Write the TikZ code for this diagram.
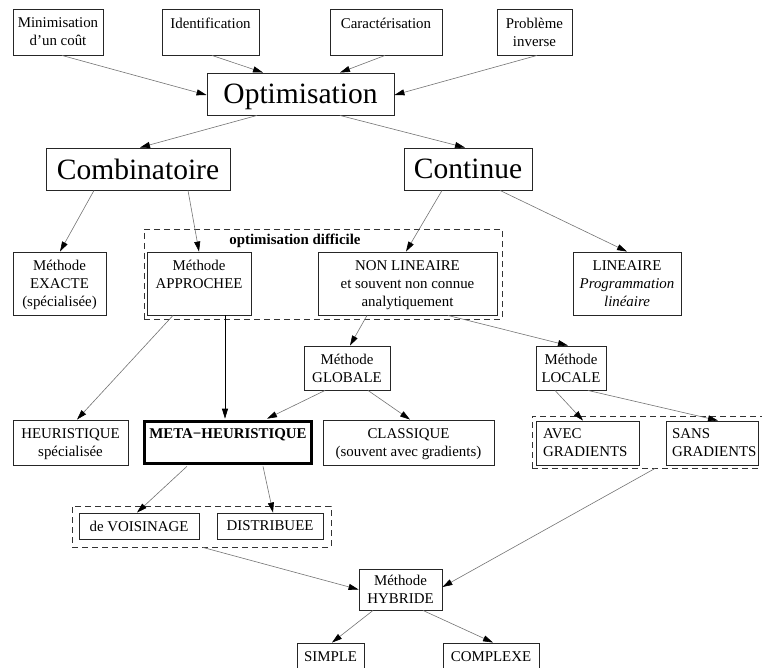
\documentclass[tikz,border=0pt]{standalone}
\usepackage{fontspec}
\setmainfont{Liberation Serif}
\usetikzlibrary{arrows.meta,calc}
\begin{document}
\begin{tikzpicture}[x=1pt,y=-1pt,
  basebox/.style={draw=black!85,line width=0.9pt,inner sep=0pt,align=center,
    font=\fontsize{14.9}{18}\selectfont},
  box/.style={basebox,text depth=0pt},
  bigbox/.style={box,font=\fontsize{29.5}{34}\selectfont},
  cluster/.style={draw=black!80,line width=0.9pt,dash pattern=on 6pt off 4pt,inner sep=0pt},
  edge/.style={draw=black!55,line width=0.6pt,-{Triangle[length=10pt,width=6pt,color=black]}},
  sedge/.style={draw=black,line width=0.7pt,-{Triangle[length=10pt,width=6pt,color=black]}}
]
\useasboundingbox (0,0) rectangle (762,668);
% clusters
\node[cluster,minimum width=358,minimum height=90] (cdiff) at (323,274) {};
\node[font=\fontsize{14.9}{18}\selectfont\bfseries,inner sep=0pt] (ldiff) at (295,241) {optimisation difficile};
\node[cluster,minimum width=236,minimum height=52] (cgrad) at (650,442) {};
\node[cluster,minimum width=259,minimum height=41] (cmeta) at (201.5,526.5) {};
% top row
\node[box,minimum width=90,minimum height=46] (min) at (58,32) {Minimisation\\d'un coût};
\node[box,minimum width=97,minimum height=46] (iden) at (210.5,32) {Identification\\\strut};
\node[box,minimum width=112,minimum height=46] (car) at (386,32) {Caractérisation\\\strut};
\node[box,minimum width=75,minimum height=46] (prob) at (534.5,32) {Problème\\inverse};
\node[bigbox,minimum width=187,minimum height=42] (opt) at (300.5,94) {Optimisation};
\node[bigbox,minimum width=184,minimum height=42] (comb) at (138,169) {Combinatoire};
\node[bigbox,minimum width=128,minimum height=42] (cont) at (468,169) {Continue};
% level 3
\node[box,minimum width=93,minimum height=63] (exact) at (59.5,283.5) {Méthode\\EXACTE\\(spécialisée)};
\node[box,minimum width=104,minimum height=63] (appr) at (199,283.5) {Méthode\\APPROCHEE\\\strut};
\node[box,minimum width=179,minimum height=63] (nonlin) at (407.5,283.5) {NON LINEAIRE\\et souvent non connue\\analytiquement};
\node[box,minimum width=108,minimum height=63] (lin) at (627,283.5) {LINEAIRE\\\textit{Programmation}\\\textit{linéaire}};
\node[box,minimum width=86,minimum height=44] (glob) at (347,368) {Méthode\\GLOBALE};
\node[box,minimum width=70,minimum height=44] (loc) at (571,368) {Méthode\\LOCALE};
% level 4
\node[box,minimum width=115,minimum height=45] (heur) at (70.5,442.5) {HEURISTIQUE\\spécialisée};
\node[box,draw=black,line width=2.8pt,minimum width=167,minimum height=42] (meta) at (228,442.5) {\textbf{META−HEURISTIQUE}\\\strut};
\node[box,minimum width=171,minimum height=45] (class) at (408.5,442.5) {CLASSIQUE\\(souvent avec gradients)};
\node[basebox,minimum width=103,minimum height=44,align=left,text width=89] (avec) at (587.5,443) {AVEC\\GRADIENTS};
\node[basebox,minimum width=92,minimum height=44,align=left,text width=80] (sans) at (712,443) {SANS\\GRADIENTS};
% level 5
\node[box,minimum width=120,minimum height=26] (voi) at (139,526) {de VOISINAGE};
\node[box,minimum width=106,minimum height=26] (dist) at (270,526) {DISTRIBUEE};
\node[box,minimum width=83,minimum height=41] (hyb) at (400.5,589.5) {Méthode\\HYBRIDE};
\node[box,minimum width=67,minimum height=28] (simple) at (330.5,657) {SIMPLE};
\node[box,minimum width=96,minimum height=28] (complexe) at (491,657) {COMPLEXE};
% edges
\draw[edge] ($(min.south)+(4,0)$) -- ($(opt.west)+(0,1)$);
\draw[edge] ($(iden.south)+(1.5,0)$) -- ($(opt.north)+(-37.5,0)$);
\draw[edge] ($(car.south)+(-1,0)$) -- ($(opt.north)+(39.5,0)$);
\draw[edge] ($(prob.south)+(2.5,0)$) -- ($(opt.east)+(0,1)$);
\draw[edge] ($(opt.south)+(-43.5,0)$) -- ($(comb.north)+(2,0)$);
\draw[edge] ($(opt.south)+(39.5,0)$) -- ($(cont.north)+(-3,0)$);
\draw[edge] ($(comb.south)+(-44,0)$) -- ($(exact.north)+(0.5,0)$);
\draw[edge] ($(comb.south)+(50,0)$) -- (appr.north);
\draw[edge] ($(cont.south)+(-26,0)$) -- ($(nonlin.north)+(-1.5,0)$);
\draw[edge] ($(cont.south)+(32,0)$) -- (lin.north);
\draw[edge] ($(appr.south)+(-26,0)$) -- ($(heur.north)+(6.5,0)$);
\draw[sedge] ($(appr.south)+(26,0)$) -- ($(meta.north)+(-3,-1.4)$);
\draw[edge] ($(nonlin.south)+(-40.5,0)$) -- ($(glob.north)+(3,0)$);
\draw[edge] ($(nonlin.south)+(40.5,0)$) -- ($(loc.north)+(-3,0)$);
\draw[edge] ($(glob.south)+(-22,0)$) -- ($(meta.north)+(39,-1.4)$);
\draw[edge] ($(glob.south)+(21,0)$) -- ($(class.north)+(1.5,0)$);
\draw[edge] ($(loc.south)+(-16,0)$) -- ($(avec.north)+(-4.5,0)$);
\draw[edge] ($(loc.south)+(17,0)$) -- ($(sans.north)+(6,0)$);
\draw[edge] ($(meta.south)+(-41,1.4)$) -- ($(voi.north)+(-2,0)$);
\draw[edge] ($(meta.south)+(35,1.4)$) -- ($(dist.north)+(3,0)$);
\draw[edge] ($(cmeta.south)+(1.5,0)$) -- (hyb.west);
\draw[edge] ($(cgrad.south)+(5,0)$) -- ($(hyb.east)+(0,-2.5)$);
\draw[edge] ($(hyb.south)+(-27.5,0)$) -- ($(simple.north)+(1.5,0)$);
\draw[edge] ($(hyb.south)+(22.5,0)$) -- ($(complexe.north)+(2,0)$);
\end{tikzpicture}
\end{document}
